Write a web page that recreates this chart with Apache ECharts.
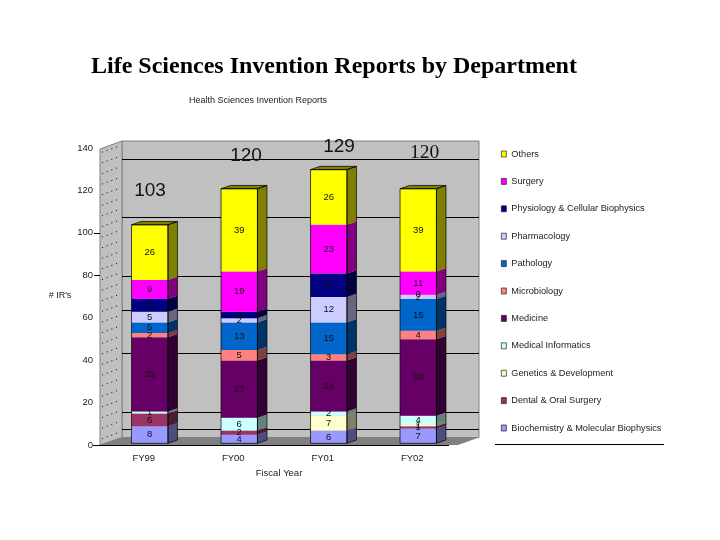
<!DOCTYPE html>
<html><head><meta charset="utf-8">
<style>html,body{margin:0;padding:0;background:#fff}#c{width:720px;height:540px}</style>
<script src="https://cdn.jsdelivr.net/npm/echarts@6/dist/echarts.min.js"></script>
</head><body><div id="c"></div>
<script>
const categories = ['FY99','FY00','FY01','FY02'];
const totals = [103,120,129,120];
const biochemistry = [8,4,6,7];
const dental = [6,2,null,1];
const genetics = [null,null,7,1];
const medicalInformatics = [1,6,2,4];
const medicine = [35,27,24,36];
const microbiology = [2,5,3,4];
const pathology = [5,13,15,15];
const pharmacology = [5,2,12,2];
const physiology = [6,3,11,0];
const surgery = [9,19,23,11];
const others = [26,39,26,39];
const wallGridValues = [135,107.5,79.7,63.5,43.2,15.4,7.4];
const wallDotValues = [3,8,13,18,23,28,33,38,43,48,53,58,63,68,73,78,83,88,93,98,103,108,113,118,123,128,133,138];
const visibleTicks = [100,80];

const departments = [
 {name:'Biochemistry & Molecular Biophysics', values:biochemistry, color:'#9999ff', side:'#4d4d80'},
 {name:'Dental & Oral Surgery', values:dental, color:'#993366', side:'#4d1a33'},
 {name:'Genetics & Development', values:genetics, color:'#ffffcc', side:'#808066'},
 {name:'Medical Informatics', values:medicalInformatics, color:'#ccffff', side:'#668080'},
 {name:'Medicine', values:medicine, color:'#660066', side:'#330033'},
 {name:'Microbiology', values:microbiology, color:'#ff8080', side:'#804040'},
 {name:'Pathology', values:pathology, color:'#0066cc', side:'#003366'},
 {name:'Pharmacology', values:pharmacology, color:'#ccccff', side:'#666680'},
 {name:'Physiology & Cellular Biophysics', values:physiology, color:'#000080', side:'#000040'},
 {name:'Surgery', values:surgery, color:'#ff00ff', side:'#800080'},
 {name:'Others', values:others, color:'#ffff00', side:'#808000'}
];

const DX = 9.5, DY = -3.3, LIFT = -1.7;
function barGeom(api, cat, from, to){
  const a = api.coord([cat, from]), b = api.coord([cat, to]);
  const hw = api.size([1,0])[0]*0.2035;
  return {x0:a[0]-hw, x1:a[0]+hw, y0:a[1]+LIFT, y1:b[1]+LIFT};
}
function poly(points, style, z2){ return {type:'polygon', shape:{points}, style, z2:z2||0}; }

const wallSeries = {
  type:'custom', name:'wall', silent:true, clip:false, z:1, data:[[0,0]], encode:{x:0,y:1},
  renderItem(params, api){
    const g = params.coordSys, L = g.x-5, BL = g.x+17, BR = g.x+374, FR = g.x+353;
    const yTop = api.coord([0,140])[1], y0 = api.coord([0,0])[1];
    const backTop = yTop-7, backBot = y0-7.5;
    const ch = [
      poly([[BL,backTop],[BR,backTop],[BR,backBot],[BL,backBot]],{fill:'#c0c0c0',stroke:'#808080',lineWidth:1}),
      poly([[L,yTop+1],[BL,backTop],[BL,backBot],[L,y0]],{fill:'#c0c0c0',stroke:'#808080',lineWidth:1}),
      poly([[L,y0],[BL,backBot],[BR,backBot],[FR,y0]],{fill:'#808080'})
    ];
    wallGridValues.forEach(v=>{
      const y = Math.round(api.coord([0,v])[1])+0.5;
      ch.push({type:'line',shape:{x1:BL,y1:y,x2:BR,y2:y},style:{stroke:'#000',lineWidth:1}});
    });
    wallDotValues.forEach(v=>{
      const y = api.coord([0,v])[1];
      ch.push({type:'line',shape:{x1:L+2,y1:y,x2:BL-2,y2:y-6.6},style:{stroke:'#000',lineWidth:1,lineDash:[1,4]}});
    });
    visibleTicks.forEach(v=>{
      const y = Math.round(api.coord([0,v])[1])+0.5;
      ch.push({type:'line',shape:{x1:L-6,y1:y,x2:L,y2:y},style:{stroke:'#000',lineWidth:1}});
    });
    ch.push({type:'line',shape:{x1:L-7,y1:y0+0.5,x2:FR-9,y2:y0+0.5},style:{stroke:'#000',lineWidth:1}});
    return {type:'group',children:ch};
  }
};

function segmentSeries(d){
  const rows = [];
  categories.forEach((c,i)=>{
    if(d.values[i]==null) return;
    let s = 0;
    for(const o of departments){ if(o===d) break; s += o.values[i]||0; }
    rows.push([i,s,s+d.values[i]]);
  });
  return {
    type:'custom', name:d.name, clip:false, z:2, itemStyle:{color:d.color}, data:rows,
    encode:{x:0,y:[1,2]},
    renderItem(params, api){
      const r = barGeom(api, api.value(0), api.value(1), api.value(2));
      return {type:'group',children:[
        poly([[r.x1,r.y0],[r.x1+DX,r.y0+DY],[r.x1+DX,r.y1+DY],[r.x1,r.y1]],{fill:d.side}),
        {type:'rect',shape:{x:r.x0,y:r.y1,width:r.x1-r.x0,height:r.y0-r.y1},style:{fill:d.color}}
      ]};
    }
  };
}

const outlineSeries = {
  type:'custom', name:'outline', silent:true, clip:false, z:3,
  data: totals.map((t,i)=>[i,t]), encode:{x:0,y:1},
  renderItem(params, api){
    const r = barGeom(api, api.value(0), 0, api.value(1));
    const s = {stroke:'#000',lineWidth:0.7,fill:'none'};
    return {type:'group',children:[
      poly([[r.x0,r.y1],[r.x0+DX,r.y1+DY],[r.x1+DX,r.y1+DY],[r.x1,r.y1]],{fill:'#808000',stroke:'#000',lineWidth:0.7}),
      {type:'rect',shape:{x:r.x0,y:r.y1,width:r.x1-r.x0,height:r.y0-r.y1},style:s},
      poly([[r.x1,r.y0],[r.x1+DX,r.y0+DY],[r.x1+DX,r.y1+DY],[r.x1,r.y1]],s)
    ]};
  }
};

const labelRows = [];
departments.forEach(d=>{
  categories.forEach((c,i)=>{
    if(d.values[i]==null) return;
    let s = 0;
    for(const o of departments){ if(o===d) break; s += o.values[i]||0; }
    labelRows.push([i,s+d.values[i]/2,d.values[i]]);
  });
});
const labelSeries = {
  type:'custom', name:'labels', silent:true, clip:false, z:4, data:labelRows, encode:{x:0,y:1},
  renderItem(params, api){
    const p = api.coord([api.value(0),api.value(1)]);
    return {type:'text',style:{x:p[0],y:p[1]+LIFT,text:String(api.value(2)),align:'center',verticalAlign:'middle',
      fill:'#111',font:'9.5px "Liberation Sans"'}};
  }
};

const totalStyle = [
 {x:150,y:191,font:'19px "Liberation Sans"'},
 {x:246,y:156,font:'19px "Liberation Sans"'},
 {x:339,y:147,font:'19px "Liberation Sans"'},
 {x:424.5,y:153,font:'19.5px "Liberation Serif"'}
];
const txt = (x,y,text,font,align,fill)=>({type:'text',z:10,style:{x,y,text,font,align:align||'left',verticalAlign:'middle',fill:fill||'#000'}});

const option = {
  animation:false,
  backgroundColor:'#fff',
  textStyle:{fontFamily:'"Liberation Sans"'},
  grid:{left:105,top:148,width:358,height:297},
  xAxis:{type:'category',data:categories,axisLine:{show:false},axisTick:{show:false},
    axisLabel:{fontSize:9.5,color:'#222',margin:8,padding:[0,12,0,0],fontFamily:'"Liberation Sans"'}},
  yAxis:{type:'value',min:0,max:140,interval:20,offset:5,splitLine:{show:false},
    axisLine:{show:false},axisTick:{show:false},
    axisLabel:{fontSize:9.5,color:'#222',margin:7,fontFamily:'"Liberation Sans"'}},
  legend:{orient:'vertical',left:501,top:149.5,padding:0,itemWidth:5,itemHeight:6,itemGap:18.4,icon:'rect',
    data:departments.slice().reverse().map(d=>d.name),selectedMode:false,
    itemStyle:{borderColor:'#222',borderWidth:0.7},
    textStyle:{fontSize:9.2,color:'#222',fontFamily:'"Liberation Sans"'}},
  graphic:[
    txt(91,67,'Life Sciences Invention Reports by Department','bold 24px "Liberation Serif"'),
    txt(189,101,'Health Sciences Invention Reports','9px "Liberation Sans"','left','#222'),
    txt(60,296,"# IR's",'9px "Liberation Sans"','center','#222'),
    txt(279,473,'Fiscal Year','9.5px "Liberation Sans"','center','#222'),
    {type:'line',z:10,shape:{x1:495,y1:444.5,x2:664,y2:444.5},style:{stroke:'#000',lineWidth:1}},
    ...totals.map((t,i)=>txt(totalStyle[i].x,totalStyle[i].y,String(t),totalStyle[i].font,'center','#111'))
  ],
  series:[wallSeries,...departments.map(segmentSeries),outlineSeries,labelSeries]
};
const chart = echarts.init(document.getElementById('c'),null,{renderer:'canvas'});
chart.setOption(option);
</script></body></html>
